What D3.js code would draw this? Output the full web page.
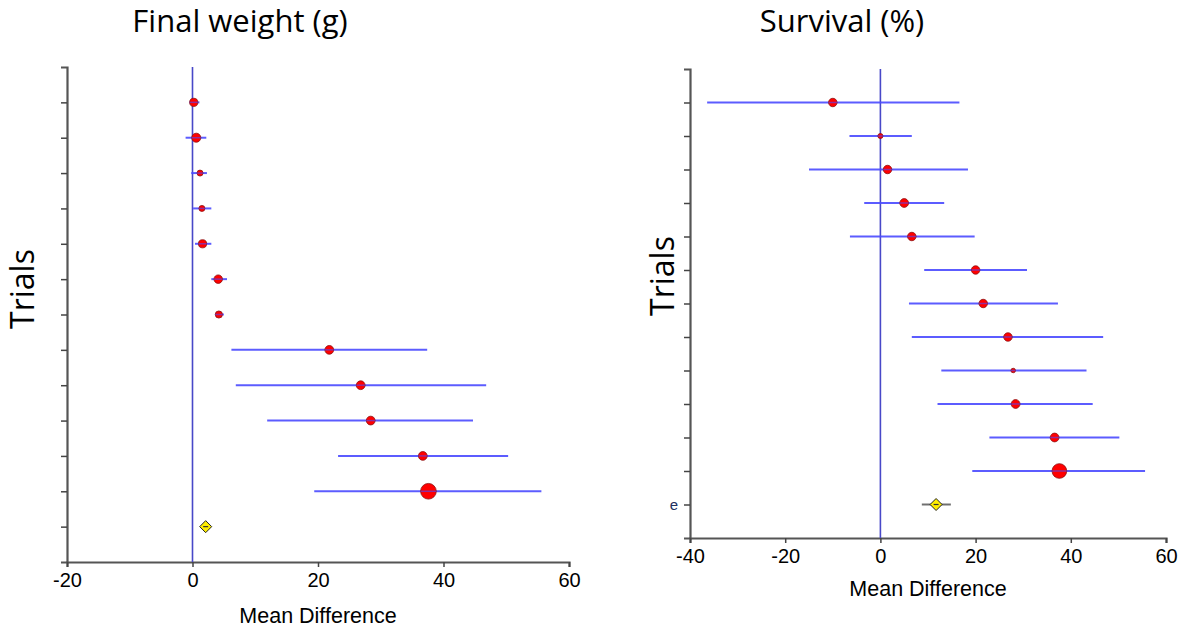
<!DOCTYPE html>
<html>
<head>
    <meta charset="utf-8">
    <script src="https://cdn.jsdelivr.net/npm/d3@7"></script>
    <style>
        body { margin: 0; background: #fff; }
        #my-svg { width: 1200px; height: 632px; display: block; }
        .arial { font-family: "Liberation Sans", Arimo, Arial, sans-serif; }
    </style>
</head>
<body>

<svg id="my-svg" width="1200" height="632"></svg>

<script>
    // trials 1..12 plus the pooled estimate (diamond)
    const trials = ["1", "2", "3", "4", "5", "6", "7", "8", "9", "10", "11", "12", "Pooled"];

    // Final weight (g)
    const weightMean = [0.2, 0.6, 1.2, 1.5, 1.6, 4.1, 4.2, 21.8, 26.8, 28.4, 36.7, 37.6, 2.1];
    const weightLow  = [-0.5, -1.1, -0.2, 0.1, 0.4, 3.0, 3.6, 6.2, 6.9, 11.9, 23.2, 19.4, 1.5];
    const weightHigh = [1.1, 2.2, 2.3, 3.0, 3.0, 5.5, 5.0, 37.4, 46.8, 44.7, 50.3, 55.6, 2.7];
    const weightStudyWeight = [6.5, 8, 3.5, 3.5, 6.5, 7, 5, 7.5, 7.5, 7.5, 7.5, 24];
    const weightTicks = [-20, 0, 20, 40, 60];

    // Survival (%)
    const survivalMean = [-10.0, 0.0, 1.5, 5.0, 6.6, 20.0, 21.6, 26.8, 27.9, 28.4, 36.6, 37.6, 11.7];
    const survivalLow  = [-36.4, -6.5, -15.0, -3.4, -6.4, 9.2, 6.0, 6.6, 12.8, 12.0, 22.9, 19.3, 8.7];
    const survivalHigh = [16.6, 6.6, 18.4, 13.4, 19.8, 30.8, 37.3, 46.8, 43.3, 44.6, 50.2, 55.6, 14.8];
    const survivalStudyWeight = [7, 2.5, 7, 7.5, 7, 7, 7, 7, 2, 7.5, 7.5, 21];
    const survivalTicks = [-40, -20, 0, 20, 40, 60];

    const svg = d3.select("#my-svg");
    const size = d3.scaleSqrt().domain([0, 25]).range([0, 8]);

    function drawPanel(p) {
        let x = d3.scaleLinear().domain(p.xDomain).range([p.left, p.right]);
        let y = d3.scaleLinear().domain([0, trials.length + 1]).range([p.top, p.bottom]);
        let g = svg.append("g");

        let rows = trials.map((t, i) => ({
            trial: t, pos: i + 1,
            mean: p.mean[i], lo: p.low[i], hi: p.high[i],
            w: p.studyWeight[i]
        }));
        let studies = rows.slice(0, -1);
        let pooled = rows[rows.length - 1];

        // y axis: ticks only, no labels
        let yAxis = g.append("g")
            .attr("transform", `translate(${p.left},0)`)
            .call(d3.axisLeft(y).tickValues(rows.map(d => d.pos)).tickSize(6).tickFormat(""));

        // x axis (plain hyphen for negatives, like the original)
        let xAxis = g.append("g")
            .attr("transform", `translate(0,${p.bottom})`)
            .call(d3.axisBottom(x).tickValues(p.ticks).tickSize(5).tickPadding(p.tickPad).tickFormat(d => String(d)));

        [yAxis, xAxis].forEach(a => {
            a.attr("font-family", null);
            a.select(".domain").attr("stroke", "#555").attr("stroke-width", 2.2);
            a.selectAll(".tick line").attr("stroke", "#444").attr("stroke-width", 1.5);
        });
        xAxis.selectAll(".tick text")
            .attr("class", "arial")
            .attr("font-size", 20)
            .attr("fill", "#000");

        // line of no effect
        g.append("line")
            .attr("x1", x(0)).attr("x2", x(0))
            .attr("y1", p.top).attr("y2", p.bottom)
            .attr("stroke", "#4848c8").attr("stroke-width", 1.6);

        // confidence intervals
        g.selectAll("line.ci")
            .data(studies)
            .join("line")
            .attr("class", "ci")
            .attr("x1", d => x(d.lo)).attr("x2", d => x(d.hi))
            .attr("y1", d => y(d.pos)).attr("y2", d => y(d.pos))
            .attr("stroke", "#4a4aff").attr("stroke-opacity", 0.9).attr("stroke-width", 2);

        // study estimates
        g.selectAll("circle.est")
            .data(studies)
            .join("circle")
            .attr("class", "est")
            .attr("cx", d => x(d.mean)).attr("cy", d => y(d.pos))
            .attr("r", d => size(d.w))
            .attr("fill", "#ff0000").attr("stroke", "#8a1010").attr("stroke-width", 0.8);

        // short line through the middle of each dot
        g.selectAll("line.mid")
            .data(studies)
            .join("line")
            .attr("class", "mid")
            .attr("x1", d => x(d.mean) - size(d.w)).attr("x2", d => x(d.mean) + size(d.w))
            .attr("y1", d => y(d.pos)).attr("y2", d => y(d.pos))
            .attr("stroke", "#4a4aff").attr("stroke-opacity", 0.6).attr("stroke-width", 1.5);

        // pooled estimate
        let py = y(pooled.pos);
        g.append("line")
            .attr("x1", x(pooled.lo)).attr("x2", x(pooled.hi))
            .attr("y1", py).attr("y2", py)
            .attr("stroke", "#707070").attr("stroke-width", 2);
        let px = x(pooled.mean), h = 6;
        g.append("path")
            .attr("d", `M${px - h},${py} L${px},${py - h} L${px + h},${py} L${px},${py + h} Z`)
            .attr("fill", "#ffee00").attr("stroke", "#222").attr("stroke-width", 1);
        g.append("line")
            .attr("x1", px - 2.5).attr("x2", px + 2.5)
            .attr("y1", py).attr("y2", py)
            .attr("stroke", "#333").attr("stroke-width", 1.2);

        // titles
        g.append("text")
            .attr("x", p.titleX).attr("y", 32)
            .attr("text-anchor", "middle")
            .attr("font-family", "'Open Sans', sans-serif")
            .attr("font-size", 31)
            .text(p.title);

        g.append("text")
            .attr("transform", `translate(${p.trialsX},${p.trialsY}) rotate(-90)`)
            .attr("text-anchor", "middle")
            .attr("font-family", "'Open Sans', sans-serif")
            .attr("font-size", 32)
            .text("Trials");

        g.append("text")
            .attr("class", "arial")
            .attr("x", (p.left + p.right) / 2).attr("y", p.xLabelY)
            .attr("text-anchor", "middle")
            .attr("font-size", 21.5)
            .text("Mean Difference");

        return {x, y};
    }

    drawPanel({
        title: "Final weight (g)", titleX: 240,
        mean: weightMean, low: weightLow, high: weightHigh, studyWeight: weightStudyWeight,
        ticks: weightTicks, xDomain: [-20, 60],
        left: 67, right: 569, top: 67, bottom: 562,
        tickPad: 6, xLabelY: 623,
        trialsX: 34, trialsY: 289
    });

    let right = drawPanel({
        title: "Survival (%)", titleX: 842,
        mean: survivalMean, low: survivalLow, high: survivalHigh, studyWeight: survivalStudyWeight,
        ticks: survivalTicks, xDomain: [-40, 60],
        left: 690, right: 1166, top: 69, bottom: 538,
        tickPad: 6, xLabelY: 596,
        trialsX: 674, trialsY: 276
    });

    // clipped row label left of the pooled row
    svg.append("text")
        .attr("class", "arial")
        .attr("x", 678).attr("y", right.y(trials.length) + 5)
        .attr("text-anchor", "end")
        .attr("font-size", 15)
        .attr("fill", "#203060")
        .text("e");
</script>
</body>
</html>
